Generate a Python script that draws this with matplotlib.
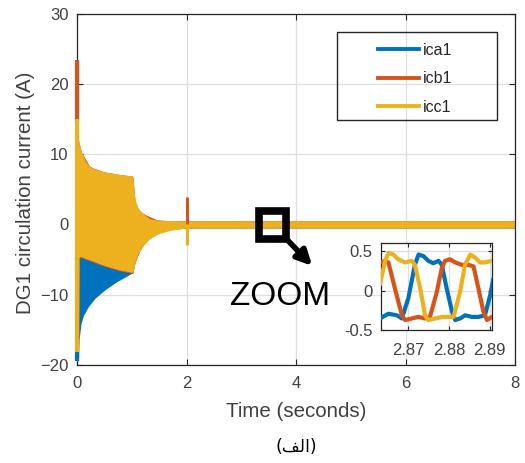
import matplotlib
matplotlib.use("Agg")
import matplotlib.pyplot as plt
from matplotlib.patches import Rectangle

plt.rcParams['font.family'] = ['Liberation Sans', 'DejaVu Sans']

# ---------------- data ----------------
series_names = ["ica1", "icb1", "icc1"]
colors = ["#0072BD", "#D95319", "#EDB120"]

# values at t = 0 (first instant)
start_red = (15.0, 23.4)
start_yel = (-18.1, 15.0)
start_blue = (-19.5, -18.1)

# envelopes of the dense oscillations (main plot)
blue_t  = [0.0, 0.03, 0.037, 0.073, 0.12, 0.207, 0.329, 0.511, 0.725, 1.0, 1.02, 1.06, 1.15, 1.27, 1.46, 1.64, 2.0, 8.0]
blue_lo = [-19.3, -19.0, -16.4, -14.1, -12.9, -11.7, -10.5, -9.3, -8.15, -6.96, -6.9, -5.3, -3.6, -2.2, -1.27, -0.8, -0.5, -0.5]
blue_hi = [14.0, 11.5, 11.0, 10.0, 9.3, 8.4, 7.8, 7.4, 7.1, 6.7, 6.6, 3.0, 1.8, 1.2, 0.6, 0.5, 0.45, 0.45]

red_t  = [0.0, 0.03, 0.037, 0.085, 0.237, 0.48, 0.785, 1.0, 1.02, 1.06, 1.15, 1.27, 1.46, 1.64, 2.0, 8.0]
red_lo = [-17.5, -17.0, -4.75, -4.75, -5.2, -5.92, -6.63, -6.95, -6.95, -5.4, -3.7, -2.3, -1.3, -0.8, -0.5, -0.5]
red_hi = [14.5, 12.0, 11.6, 10.2, 8.2, 7.5, 7.1, 6.9, 6.8, 2.9, 1.8, 1.3, 0.65, 0.55, 0.5, 0.5]

yel_t  = [0.0, 0.01, 0.03, 0.037, 0.085, 0.15, 0.237, 0.35, 0.48, 0.65, 0.785, 1.0, 1.02, 1.04,
          1.07, 1.12, 1.21, 1.33, 1.5, 1.7, 2.0, 8.0]
yel_lo = [-18.1, -17.8, -17.2, -4.6, -4.6, -4.85, -5.06, -5.4, -5.78, -6.2, -6.49, -6.8, -6.9, -6.2,
          -5.1, -4.1, -3.0, -2.0, -1.3, -0.85, -0.5, -0.5]
yel_hi = [14.85, 13.5, 11.8, 11.5, 10.2, 9.0, 8.2, 7.8, 7.5, 7.3, 7.1, 6.9, 6.8, 5.0,
          3.3, 2.3, 1.5, 0.8, 0.6, 0.55, 0.5, 0.5]

# transient spikes at t = 2 s
spike_t = 2.0
red_spike = 3.9
yel_spike = -3.0

# zoomed window (inset)
ins_blue_t = [2.8630, 2.8651, 2.8672, 2.8684, 2.8700, 2.8716, 2.8725, 2.8737, 2.8749, 2.8761, 2.8774,
              2.8782, 2.8794, 2.8807, 2.8815, 2.8827, 2.8839, 2.8856, 2.8872, 2.8888, 2.8901, 2.8909]
ins_blue_v = [-0.35, -0.29, -0.31, -0.35, -0.09, 0.33, 0.46, 0.44, 0.38, 0.35, 0.38,
              0.33, 0.03, -0.26, -0.37, -0.35, -0.31, -0.33, -0.33, -0.31, -0.05, 0.16]
ins_red_t = [2.8630, 2.8643, 2.8651, 2.8667, 2.8684, 2.8692, 2.8708, 2.8725, 2.8741, 2.8753, 2.8770,
             2.8782, 2.8790, 2.8802, 2.8815, 2.8831, 2.8847, 2.8860, 2.8872, 2.8884, 2.8893, 2.8905]
ins_red_v = [0.36, 0.38, 0.36, 0.03, -0.31, -0.37, -0.35, -0.33, -0.35, -0.33, -0.01,
             0.29, 0.38, 0.40, 0.36, 0.33, 0.33, 0.31, 0.03, -0.26, -0.37, -0.33]
ins_yel_t = [2.8630, 2.8643, 2.8651, 2.8663, 2.8675, 2.8692, 2.8708, 2.8716, 2.8729, 2.8741, 2.8749,
             2.8766, 2.8782, 2.8798, 2.8811, 2.8827, 2.8839, 2.8852, 2.8864, 2.8876, 2.8888, 2.8905]
ins_yel_v = [0.08, 0.38, 0.48, 0.46, 0.40, 0.36, 0.38, 0.33, 0.03, -0.31, -0.37,
             -0.35, -0.33, -0.33, -0.33, -0.01, 0.33, 0.46, 0.42, 0.36, 0.36, 0.38]

x_ticks = [0, 2, 4, 6, 8]
y_ticks = [-20, -10, 0, 10, 20, 30]
ins_x_ticks = [2.87, 2.88, 2.89]
ins_y_ticks = [-0.5, 0, 0.5]
ins_y_labels = ["-0.5", "0", "0.5"]

xlabel = "Time (seconds)"
ylabel = "DG1 circulation current (A)"
caption = "(الف)"
zoom_text = "ZOOM"

# ---------------- figure ----------------
AX_COL = "#262626"
TICK_COL = "#404040"
GRID_COL = "#DFDFDF"

fig = plt.figure(figsize=(5.25, 4.63), dpi=100)
ax = fig.add_axes([0.1467, 0.2117, 0.981 - 0.1467, 0.9708 - 0.2117])

envs = [(blue_t, blue_lo, blue_hi), (red_t, red_lo, red_hi), (yel_t, yel_lo, yel_hi)]
for (t, lo, hi), c, name in zip(envs, colors, series_names):
    ax.fill_between(t, lo, hi, color=c, lw=0, zorder=2)
    ax.plot([], [], color=c, lw=2.8, label=name)

# first-instant values (drawn as lines at t=0 like the plotted traces)
for (lo, hi), c in zip([start_blue, start_red, start_yel], colors):
    ax.vlines(0.0, lo, hi, color=c, lw=3.0, zorder=3, clip_on=False)

ax.vlines(spike_t, 0, red_spike, color=colors[1], lw=2.2, zorder=3)
ax.vlines(spike_t, yel_spike, 0, color=colors[2], lw=2.2, zorder=3)

ax.set_xlim(0, 8)
ax.set_ylim(-20, 30)
ax.set_xticks(x_ticks)
ax.set_yticks(y_ticks)
ax.grid(True, color=GRID_COL, lw=0.9, zorder=0)
ax.set_axisbelow(True)
ax.tick_params(direction='in', length=4, width=0.8, colors=AX_COL, labelcolor=TICK_COL,
               labelsize=12, top=True, right=True)
ax.tick_params(axis='x', pad=8)
ax.tick_params(axis='y', pad=6)
for s in ax.spines.values():
    s.set_color(AX_COL)
    s.set_linewidth(0.9)
    s.set_zorder(2.5)

ax.set_xlabel(xlabel, fontsize=14.8, color=TICK_COL)
ax.set_ylabel(ylabel, fontsize=14.8, color=TICK_COL)
ax.xaxis.set_label_coords(0.5, -0.104)
ax.yaxis.set_label_coords(-0.096, 0.489)

# legend
leg = ax.legend(loc='upper left', bbox_to_anchor=(0.687, 0.917), frameon=False, fontsize=11.5,
                handlelength=2.56, handletextpad=0.25, labelspacing=0.85, borderpad=0,
                borderaxespad=0)
for txt in leg.get_texts():
    txt.set_color(AX_COL)
ax.add_patch(Rectangle((0.594, 0.697), 0.365, 0.25, transform=ax.transAxes, fill=False,
                       ec=AX_COL, lw=1.0, zorder=5))

# zoom marker
ax.add_patch(Rectangle((0.4155, 0.3576), 0.0616, 0.0814, transform=ax.transAxes, fill=False,
                       ec='black', lw=5.5, zorder=6))
ax.annotate("", xy=(0.537, 0.282), xytext=(0.477, 0.36), xycoords='axes fraction',
            arrowprops=dict(arrowstyle='-|>', color='black', lw=4, mutation_scale=22,
                            shrinkA=0, shrinkB=0), zorder=6)
ax.text(0.4635, 0.196, zoom_text, transform=ax.transAxes, fontsize=24, color='black',
        ha='center', va='center', zorder=6)

# caption (visual-order Arabic presentation forms)
forms = {'ا': '\uFE8D', 'ل': '\uFEDF', 'ف': '\uFED2'}
visual = ''.join(forms.get(ch, ch) for ch in reversed(caption)).translate(str.maketrans('()', ')('))
fig.text(0.5638, 1 - 447 / 463, visual, fontsize=12.5, color='black', ha='center', va='center',
         family=['DejaVu Sans'])

# inset
ins = fig.add_axes([0.7251, 0.2866, 0.9377 - 0.7251, 0.4758 - 0.2866])
for t, v, c in zip([ins_blue_t, ins_red_t, ins_yel_t], [ins_blue_v, ins_red_v, ins_yel_v], colors):
    ins.plot(t, v, color=c, lw=3.0, solid_joinstyle='round', solid_capstyle='round', zorder=3)
ins.set_xlim(2.8632, 2.8906)
ins.set_ylim(-0.5, 0.61)
ins.set_xticks(ins_x_ticks)
ins.set_xticklabels([f"{v:.2f}" for v in ins_x_ticks])
ins.set_yticks(ins_y_ticks)
ins.set_yticklabels(ins_y_labels)
ins.grid(True, color=GRID_COL, lw=0.9, zorder=0)
ins.set_axisbelow(True)
ins.tick_params(direction='in', length=3, width=0.8, colors=AX_COL, labelcolor=TICK_COL,
                labelsize=12, top=True, right=True)
ins.tick_params(axis='x', pad=9)
ins.tick_params(axis='y', pad=6)
for s in ins.spines.values():
    s.set_color(AX_COL)
    s.set_linewidth(0.9)

fig.savefig("out.png", dpi=100)
